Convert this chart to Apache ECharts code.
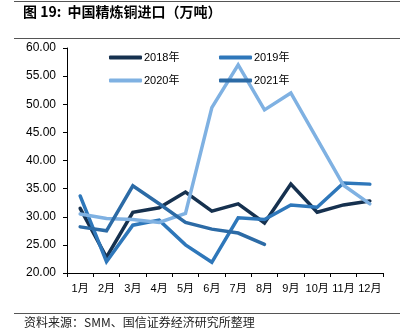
<!DOCTYPE html>
<html>
<head>
<meta charset="utf-8">
<script src="https://cdn.jsdelivr.net/npm/echarts@6/dist/echarts.min.js"></script>
<style>
  html, body { margin: 0; padding: 0; background: #fff; }
  #chart { width: 403px; height: 334px; }
</style>
</head>
<body>
<div id="chart"></div>
<script>
// 中国精炼铜进口（万吨），按月
const months = ['1月', '2月', '3月', '4月', '5月', '6月', '7月', '8月', '9月', '10月', '11月', '12月'];
const yTicks = { min: 20, max: 60, interval: 5 };

const s2018 = [31.5, 22.8, 30.8, 31.6, 34.4, 31.0, 32.3, 28.9, 35.8, 30.8, 32.1, 32.8];
const s2019 = [33.7, 22.0, 28.5, 29.4, 25.0, 21.9, 29.8, 29.5, 32.1, 31.7, 36.0, 35.8];
const s2020 = [30.5, 29.7, 29.5, 29.0, 30.6, 49.4, 57.0, 49.0, 52.0, 43.8, 35.6, 32.3];
const s2021 = [28.2, 27.5, 35.5, 32.3, 29.0, 27.8, 27.1, 25.1];

const seriesDefs = [
  { name: '2018年', data: s2018, color: '#16314f' },
  { name: '2019年', data: s2019, color: '#2e77ba' },
  { name: '2020年', data: s2020, color: '#7fb1e2' },
  { name: '2021年', data: s2021, color: '#2c6ba6' }
];

const font = '"Liberation Sans", Arial, "Noto Sans CJK SC", sans-serif';
const chart = echarts.init(document.getElementById('chart'), null, { renderer: 'canvas' });

const legendText = { fontSize: 11, color: '#000', fontFamily: font, padding: [0, 0, 0, -3] };

chart.setOption({
  animation: false,
  backgroundColor: '#ffffff',
  textStyle: { fontFamily: font },
  grid: { left: 67, right: 20, top: 48, bottom: 61 },
  legend: [
    {
      data: ['2018年', '2020年'],
      orient: 'vertical',
      left: 104, top: 47,
      itemWidth: 33, itemHeight: 4, itemGap: 12, icon: 'roundRect',
      textStyle: legendText
    },
    {
      data: ['2019年', '2021年'],
      orient: 'vertical',
      left: 214, top: 47,
      itemWidth: 33, itemHeight: 4, itemGap: 12, icon: 'roundRect',
      textStyle: legendText
    }
  ],
  xAxis: {
    type: 'category',
    data: months,
    boundaryGap: true,
    axisLine: { lineStyle: { color: '#000', width: 1 } },
    axisTick: { show: true, alignWithLabel: false, length: 4, lineStyle: { color: '#000' } },
    axisLabel: { color: '#000', fontSize: 11, margin: 10, fontFamily: font, interval: 0 },
    splitLine: { show: false }
  },
  yAxis: {
    type: 'value',
    min: yTicks.min, max: yTicks.max, interval: yTicks.interval,
    axisLine: { show: true, lineStyle: { color: '#000', width: 1 } },
    axisTick: { show: true, length: 4, lineStyle: { color: '#000' } },
    axisLabel: {
      color: '#000', fontSize: 12, margin: 11, fontFamily: font,
      formatter: v => v.toFixed(2)
    },
    splitLine: { show: false }
  },
  series: seriesDefs.map(d => ({
    name: d.name,
    type: 'line',
    data: d.data,
    symbol: 'none',
    smooth: false,
    lineStyle: { color: d.color, width: 3.5, cap: 'round', join: 'miter' },
    itemStyle: { color: d.color }
  })),
  graphic: [
    { type: 'rect', shape: { x: 14, y: 1, width: 386, height: 1 }, style: { fill: '#555' } },
    {
      type: 'text', left: 23, top: 5,
      style: {
        text: '图 19:  中国精炼铜进口（万吨）',
        font: 'bold 14px "Noto Sans CJK SC", "Liberation Sans", sans-serif',
        fill: '#000'
      }
    },
    { type: 'rect', shape: { x: 14, y: 38, width: 386, height: 1 }, style: { fill: '#555' } },
    { type: 'rect', shape: { x: 14, y: 313, width: 386, height: 1 }, style: { fill: '#555' } },
    {
      type: 'text', left: 24, top: 316,
      style: {
        text: '资料来源：SMM、国信证券经济研究所整理',
        font: '12px "Noto Sans CJK SC", "Liberation Sans", sans-serif',
        fill: '#222'
      }
    }
  ]
});
</script>
</body>
</html>
